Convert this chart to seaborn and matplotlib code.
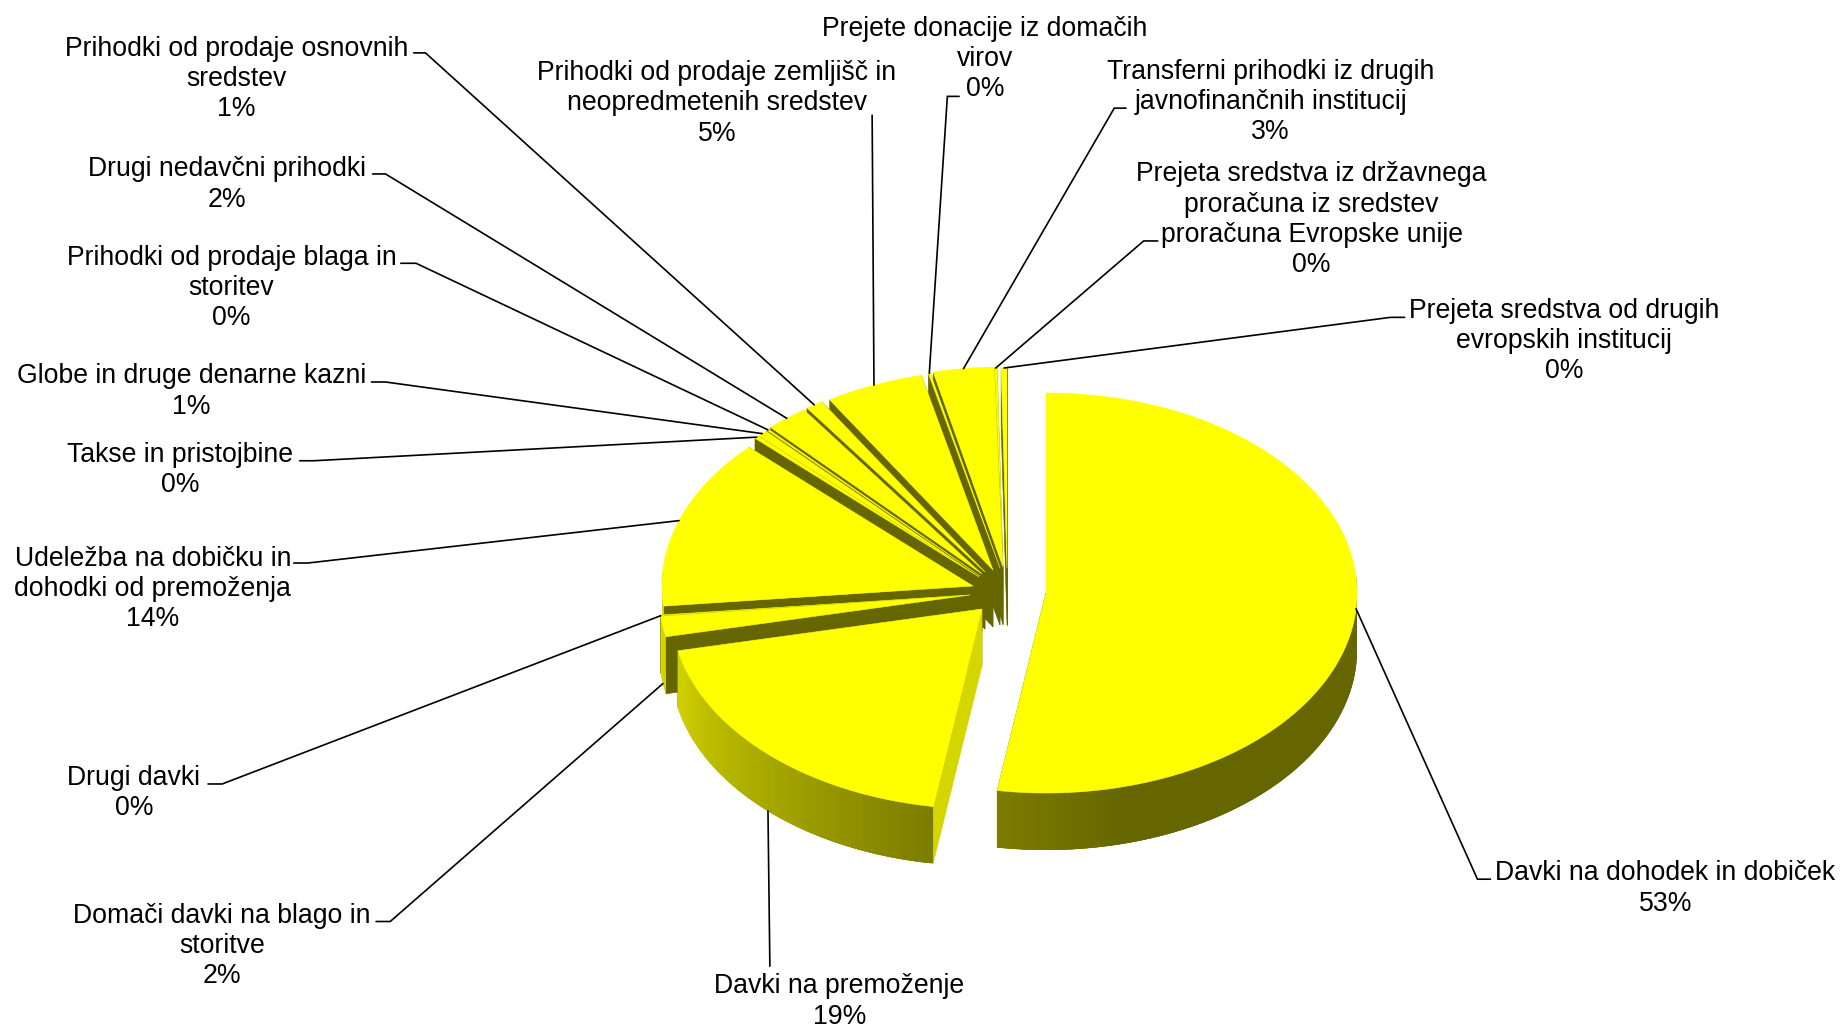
import numpy as np
import matplotlib
matplotlib.use("Agg")
import matplotlib.pyplot as plt
import seaborn as sns

sns.set_theme(style="white")
plt.rcParams['font.family'] = ['Liberation Sans', 'DejaVu Sans']

# ---- data (clockwise from 12 o'clock) ----
categories = [
    "Davki na dohodek in dobiček",
    "Davki na premoženje",
    "Domači davki na blago in\nstoritve",
    "Drugi davki",
    "Udeležba na dobičku in\ndohodki od premoženja",
    "Takse in pristojbine",
    "Globe in druge denarne kazni",
    "Prihodki od prodaje blaga in\nstoritev",
    "Drugi nedavčni prihodki",
    "Prihodki od prodaje osnovnih\nsredstev",
    "Prihodki od prodaje zemljišč in\nneopredmetenih sredstev",
    "Prejete donacije iz domačih\nvirov",
    "Transferni prihodki iz drugih\njavnofinančnih institucij",
    "Prejeta sredstva iz državnega\nproračuna iz sredstev\nproračuna Evropske unije",
    "Prejeta sredstva od drugih\nevropskih institucij",
]
shares = [52.51, 19.14, 1.65, 0.1, 13.8, 0.25, 0.55, 0.1, 2.2, 0.9, 5.1, 0.1, 3.15, 0.15, 0.3]

# ---- layout / style ----
W, H = 1843, 1026
CENTER = (985.0, 580.0)
A, B, DEPTH = 311.0, 200.0, 57.0
# explosion of each slice, in pixels from the common centre
explode = [(61, 13), (-3, 29), (-15, 15), (-15, 15), (-12, 6), (-6, -3), (-6, -3), (-5, -4),
           (-3, -6), (0, -8), (8, -10), (15, -12), (18, -13), (18, -12), (22, -12)]
# label block centres and leader line knees, in 1568-wide reference units
label_pos = [(1417, 756), (714, 852), (189, 805), (114, 675), (130, 501), (153, 400), (163, 333),
             (197, 245), (193, 157), (201, 67), (610, 88), (838, 50), (1081, 87), (1116, 187), (1331, 290)]
leader = [[(1268, 748), (1257, 748)], [(655, 822)], [(320, 784), (332, 784)], [(177, 667), (189, 667)],
          [(250, 479), (262, 479)], [(255, 392), (267, 392)], [(316, 325), (328, 325)],
          [(341, 224), (354, 224)], [(317, 148), (328, 148)], [(352, 45), (362, 45)], [(742, 98)],
          [(816, 82), (806, 82)], [(958, 92), (948, 92)], [(985, 205), (973, 205)], [(1195, 270), (1183, 270)]]
on_wall = {1, 2}          # leader ends on the outer wall, not on the rim
S = W / 1568.0

TOP = (1.0, 1.0, 0.0)
DARK = (102 / 255, 102 / 255, 0.0)
LIGHT = (213 / 255, 213 / 255, 0.0)
# wall colour ramp: dark at the right, light at the left of the front of the pie
ramp = sns.blend_palette([DARK, (125 / 255, 125 / 255, 0), (215 / 255, 215 / 255, 0)], n_colors=201)


def wall_colour(a):
    t = np.interp(a, [90, 165, 190, 262], [0, 0, 0.5, 1.0])
    return ramp[int(round(t * 200))]


def pt(apex, a):
    r = np.radians(a)
    return np.array([apex[0] + A * np.sin(r), apex[1] - B * np.cos(r)])


fig = plt.figure(figsize=(W / 100, H / 100), dpi=100)
ax = fig.add_axes([0, 0, 1, 1])
ax.set_xlim(0, W)
ax.set_ylim(H, 0)
ax.axis("off")

bounds = np.concatenate([[0], np.cumsum(shares)]) / np.sum(shares) * 360.0
mids = (bounds[:-1] + bounds[1:]) / 2
apexes = [(CENTER[0] + e[0], CENTER[1] + e[1]) for e in explode]
down = np.array([0, DEPTH])


def fill(poly, c, z, lw=0.4):
    poly = np.array(poly)
    ax.fill(poly[:, 0], poly[:, 1], facecolor=c, edgecolor=c if lw else "none", lw=lw, zorder=z)


order = np.argsort(-np.cos(np.radians(mids)), kind="stable")
for z, i in enumerate(order):
    a0, a1, apex = bounds[i], bounds[i + 1], np.array(apexes[i])
    base = 2 + z * 0.01
    # radial walls; the one that ends a slice first, so the starting one stays in front
    for a, c in ((a1, DARK), (a0, LIGHT if i == 1 else DARK)):
        p = pt(apex, a)
        fill([apex, p, p + down, apex + down], c, base)
    # outer wall, as overlapping narrow strips so that no seams show
    steps = np.linspace(a0, a1, max(2, int((a1 - a0) * 2) + 2))
    step = steps[1] - steps[0]
    for k, (s0, s1) in enumerate(zip(steps[:-1], steps[1:])):
        if s1 < 85 or s0 > 275:
            continue
        arc = [pt(apex, a) for a in np.linspace(s0, min(s1 + 2 * step, a1), 4)]
        poly = arc + [p + down for p in arc[::-1]]
        fill(poly, wall_colour((s0 + s1) / 2), base + 0.001 + k * 1e-6, lw=0)
    # top face
    arc = [pt(apex, a) for a in np.linspace(a0, a1, max(2, int(a1 - a0) + 2))]
    fill([apex] + arc, TOP, base + 0.002)

# labels and leader lines
for i, name in enumerate(categories):
    x, y = label_pos[i]
    ax.text(x * S, y * S, f"{name}\n{round(shares[i])}%", ha="center", va="center", ma="center",
            fontsize=19.2, color="black", linespacing=1.21, zorder=10)
    end = pt(apexes[i], mids[i]) + (down if i in on_wall else 0)
    xs = [p[0] * S for p in leader[i]] + [end[0]]
    ys = [p[1] * S for p in leader[i]] + [end[1]]
    ax.plot(xs, ys, color="black", lw=1.2, solid_joinstyle="miter", zorder=9)

fig.savefig("out.png", dpi=100, facecolor="white")
